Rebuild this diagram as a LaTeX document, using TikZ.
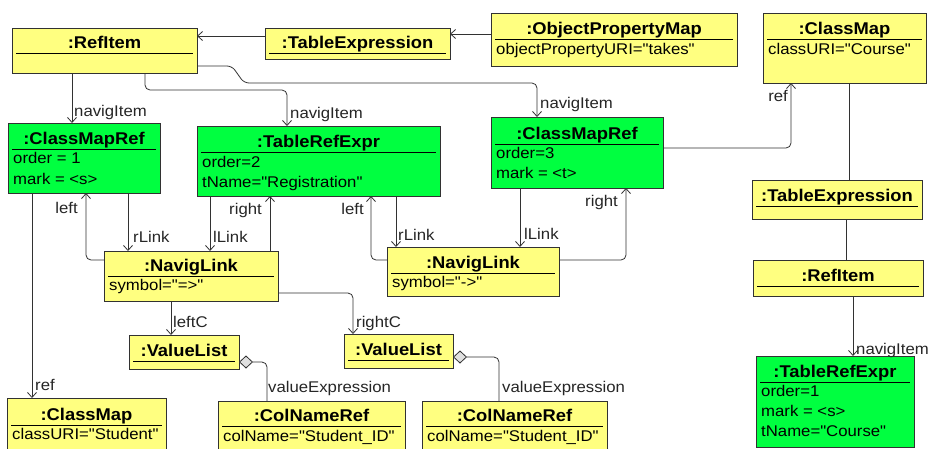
\documentclass[tikz,border=0pt]{standalone}
\usepackage{fontspec}
\setmainfont{Liberation Sans}[FakeStretch=1.08, Ligatures=TeXOff]
\usetikzlibrary{arrows.meta,calc}
\definecolor{uyellow}{RGB}{255,255,128}
\definecolor{ugreen}{RGB}{0,255,64}
\definecolor{uline}{RGB}{50,50,50}
\tikzset{
 umlbox/.style={draw=uline, line width=0.9pt, inner sep=0pt, outer sep=0pt, anchor=north west},
 sepline/.style={draw=black, line width=0.9pt},
 titletext/.style={font=\bfseries\fontsize{17}{19}\selectfont, inner sep=0pt, anchor=base},
 attrtext/.style={font=\fontsize{15.5}{17}\selectfont, inner sep=0pt, anchor=base west},
 lbl/.style={font=\fontsize{15.5}{17}\selectfont, inner sep=0pt, text=black!85},
 conn/.style={draw=uline, line width=0.8pt, rounded corners=5pt},
 arr/.style={conn, -{Straight Barb[length=5pt,width=9pt]}},
 agg/.style={conn, {Diamond[length=14pt,width=13pt,fill=black!12]}-},
}
\newcommand\mkbox[8]{%
 \node[umlbox, fill=#7, minimum width={(#4-#2)*1pt}, minimum height={(#5-#3)*1pt}] (#1) at (#2,#3) {};
 \draw[sepline] ({#2+4},#6) -- ({#4-4},#6);
 \node[titletext] (#1-title) at ({(#2+#4)/2},{#6-5}) {#8};
}
\begin{document}
\begin{tikzpicture}[x=1pt,y=-1pt]
\useasboundingbox (0,0) rectangle (928,448);
\fill[white] (0,0) rectangle (928,448);
\clip (0,0) rectangle (928,448);
% boxes
\mkbox{ri1}{12}{28}{197}{73}{53}{uyellow}{:RefItem}
\mkbox{te1}{265}{28}{450}{59}{53}{uyellow}{:TableExpression}
\mkbox{opm}{491}{13}{737}{66}{39}{uyellow}{:ObjectPropertyMap}
\node[attrtext] (opm-a1) at (496,54) {objectPropertyURI="takes"};
\mkbox{cm1}{763}{13}{926}{83}{39}{uyellow}{:ClassMap}
\node[attrtext] (cm1-a1) at (768,54) {classURI="Course"};
\mkbox{cmr1}{8}{123}{160}{193}{149}{ugreen}{:ClassMapRef}
\node[attrtext] (cmr1-a1) at (13,163) {order = 1};
\node[attrtext] (cmr1-a2) at (13,184) {mark = <s>};
\mkbox{tre1}{197}{126}{440}{196}{152}{ugreen}{:TableRefExpr}
\node[attrtext] (tre1-a1) at (202,167) {order=2};
\node[attrtext] (tre1-a2) at (202,187) {tName="Registration"};
\mkbox{cmr3}{491}{117}{663}{188}{144}{ugreen}{:ClassMapRef}
\node[attrtext] (cmr3-a1) at (496,158) {order=3};
\node[attrtext] (cmr3-a2) at (496,178) {mark = <t>};
\mkbox{nl1}{104}{251}{278}{301}{276}{uyellow}{:NavigLink}
\node[attrtext] (nl1-a1) at (109,290) {symbol="=>"};
\mkbox{nl2}{387}{247}{559}{296}{273}{uyellow}{:NavigLink}
\node[attrtext] (nl2-a1) at (392,287) {symbol="->"};
\mkbox{te2}{752}{180}{922}{219}{206}{uyellow}{:TableExpression}
\mkbox{ri2}{753}{260}{923}{296}{286}{uyellow}{:RefItem}
\mkbox{vl1}{129}{335}{239}{369}{361}{uyellow}{:ValueList}
\mkbox{vl2}{344}{334}{453}{368}{360}{uyellow}{:ValueList}
\mkbox{cm2}{7}{398}{166}{455}{425}{uyellow}{:ClassMap}
\node[attrtext] (cm2-a1) at (12,439) {classURI="Student"};
\mkbox{cnr1}{218}{401}{405}{455}{426}{uyellow}{:ColNameRef}
\node[attrtext] (cnr1-a1) at (223,441) {colName="Student\_ID"};
\mkbox{cnr2}{422}{401}{607}{455}{426}{uyellow}{:ColNameRef}
\node[attrtext] (cnr2-a1) at (427,441) {colName="Student\_ID"};
\mkbox{tre2}{756}{356}{914}{447}{382}{ugreen}{:TableRefExpr}
\node[attrtext] (tre2-a1) at (761,396) {order=1};
\node[attrtext] (tre2-a2) at (761,416) {mark = <s>};
\node[attrtext] (tre2-a3) at (761,436) {tName="Course"};
% connectors
\draw[arr] ($(ri1.south west)+(60,0)$) -- ($(cmr1.north west)+(64,0)$);
\draw[arr] ($(ri1.south west)+(133,0)$) -- ++(0,17) -| ($(tre1.north west)+(90,0)$);
\draw[arr] ($(ri1.north east)+(0,38)$) -- ++(35,0) -- ++(12,17) -| ($(cmr3.north west)+(46,0)$);
\draw[arr] ($(te1.north west)+(0,8)$) -- ($(ri1.north east)+(0,8)$);
\draw[arr] ($(opm.north west)+(0,21)$) -- ($(te1.north east)+(0,6)$);
\draw[arr] ($(cmr3.north east)+(0,31)$) -| ($(cm1.south west)+(28,0)$);
\draw[conn] ($(cm1.south west)+(86,0)$) -- ($(te2.north west)+(97,0)$);
\draw[conn] ($(te2.south west)+(94,0)$) -- ($(ri2.north west)+(93,0)$);
\draw[arr] ($(ri2.south west)+(100,0)$) -- ($(tre2.north west)+(97,0)$);
\draw[arr] ($(cmr1.south west)+(24,0)$) -- ($(cm2.north west)+(25,0)$);
\draw[arr] ($(nl1.north west)+(0,9)$) -| ($(cmr1.south west)+(78,0)$);
\draw[arr] ($(cmr1.south west)+(120,0)$) -- ($(nl1.north west)+(24,0)$);
\draw[arr] ($(tre1.south west)+(13,0)$) -- ($(nl1.north west)+(106,0)$);
\draw[arr] ($(nl1.north west)+(166,0)$) -- ($(tre1.south west)+(73,0)$);
\draw[arr] ($(nl2.north west)+(0,13)$) -| ($(tre1.south west)+(174,0)$);
\draw[arr] ($(tre1.south west)+(199,0)$) -- ($(nl2.north west)+(9,0)$);
\draw[arr] ($(cmr3.south west)+(29,0)$) -- ($(nl2.north west)+(133,0)$);
\draw[arr] ($(nl2.north east)+(0,13)$) -| ($(cmr3.south west)+(135,0)$);
\draw[arr] ($(nl1.south west)+(67,0)$) -- ($(vl1.north west)+(42,0)$);
\draw[arr] ($(nl1.north east)+(0,42)$) -| ($(vl2.north west)+(9,0)$);
\draw[agg] ($(vl1.north east)+(0,27)$) -| ($(cnr1.north west)+(49,0)$);
\draw[agg] ($(vl2.north east)+(0,23)$) -| ($(cnr2.north west)+(77,0)$);
% labels
\node[lbl, anchor=base west] (l1) at (74,116) {navigItem};
\node[lbl, anchor=base west] (l2) at (290,118) {navigItem};
\node[lbl, anchor=base west] (l3) at (540,108) {navigItem};
\node[lbl, anchor=base east] (l4) at (788,101) {ref};
\node[lbl, anchor=base west] (l5) at (856,354) {navigItem};
\node[lbl, anchor=base west] (l6) at (35,390) {ref};
\node[lbl, anchor=base east] (l7) at (78,213) {left};
\node[lbl, anchor=base west] (l8) at (133,242) {rLink};
\node[lbl, anchor=base west] (l9) at (213,242) {lLink};
\node[lbl, anchor=base east] (l10) at (262,214) {right};
\node[lbl, anchor=base east] (l11) at (364,214) {left};
\node[lbl, anchor=base west] (l12) at (398,240) {rLink};
\node[lbl, anchor=base west] (l13) at (524,239) {lLink};
\node[lbl, anchor=base east] (l14) at (618,206) {right};
\node[lbl, anchor=base west] (l15) at (173,327) {leftC};
\node[lbl, anchor=base west] (l16) at (356,327) {rightC};
\node[lbl, anchor=base west] (l17) at (268,392) {valueExpression};
\node[lbl, anchor=base west] (l18) at (502,392) {valueExpression};
\end{tikzpicture}
\end{document}
